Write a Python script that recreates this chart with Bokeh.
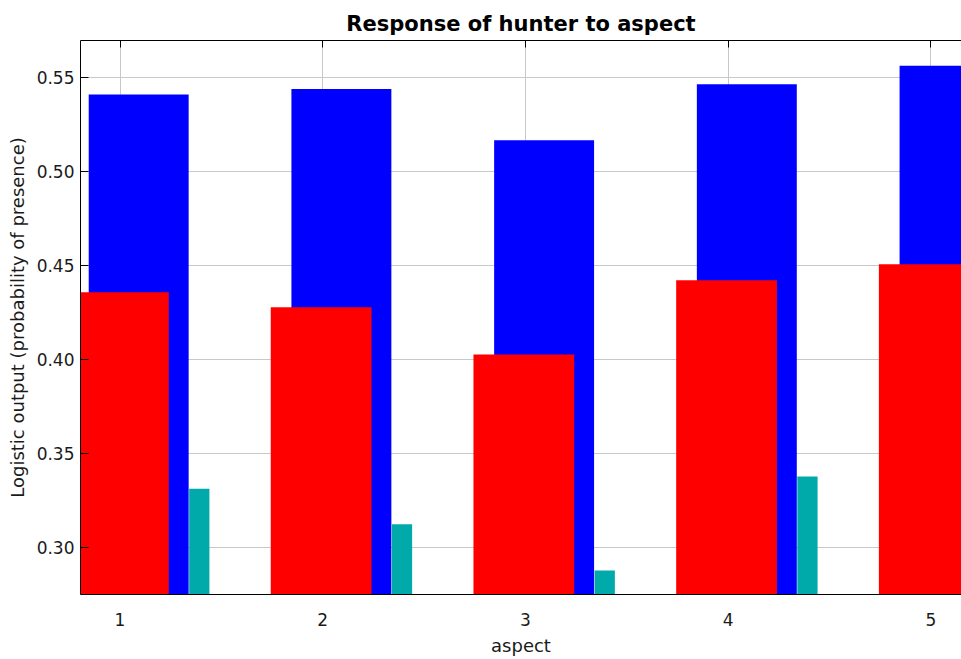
from bokeh.plotting import figure
from bokeh.models import (ColumnDataSource, Range1d, FixedTicker, LinearAxis,
                          PrintfTickFormatter)
from bokeh.transform import dodge
from bokeh.embed import file_html
from bokeh.resources import INLINE

# ---- data ----
aspect = [1, 2, 3, 4, 5]
tick_labels = ["1", "2", "3", "4", "5"]
blue_values = [0.5412, 0.5440, 0.5168, 0.5466, 0.5564]
red_values = [0.4358, 0.4278, 0.4027, 0.4422, 0.4507]
cyan_values = [0.3311, 0.3122, 0.2876, 0.3377, float("nan")]
y_ticks = [0.30, 0.35, 0.40, 0.45, 0.50, 0.55]

src = ColumnDataSource(dict(aspect=aspect, blue=blue_values, red=red_values,
                            cyan=cyan_values))

FONT = "DejaVu Sans"

p = figure(width=961, height=659, output_backend="svg", toolbar_location=None,
           x_range=Range1d(0.805, 5.151), y_range=Range1d(0.2748, 0.5699),
           x_axis_location="below", y_axis_location="left",
           min_border_left=80, min_border_right=0, min_border_top=40,
           min_border_bottom=65, background_fill_color="white",
           border_fill_color="white", outline_line_color=None)

p.title.text = "Response of hunter to aspect"
p.title.align = "center"
p.title.text_font = FONT
p.title.text_font_size = "21px"
p.title.text_font_style = "bold"
p.title.text_color = "black"
p.title.standoff = 10

# bars
p.vbar(x=dodge("aspect", 0.092, range=p.x_range), top="blue", bottom=0,
       width=0.493, source=src, fill_color="#0000ff", line_color=None)
p.vbar(x=dodge("aspect", -0.008, range=p.x_range), top="red", bottom=0,
       width=0.497, source=src, fill_color="#ff0000", line_color=None)
p.vbar(x=dodge("aspect", 0.391, range=p.x_range), top="cyan", bottom=0,
       width=0.1, source=src, fill_color="#00aaaa", line_color=None)

# grids
p.xgrid.ticker = FixedTicker(ticks=aspect)
p.ygrid.ticker = FixedTicker(ticks=y_ticks)
for g in (p.xgrid, p.ygrid):
    g.grid_line_color = "#c8c8c8"
    g.grid_line_width = 1

# x axis (bottom)
xa = p.xaxis[0]
xa.ticker = FixedTicker(ticks=aspect)
xa.major_label_overrides = {a: t for a, t in zip(aspect, tick_labels)}
xa.axis_label = "aspect"
xa.major_tick_in = 0
xa.major_tick_out = 0
xa.minor_tick_in = 0
xa.minor_tick_out = 0
xa.major_label_standoff = 18
xa.axis_label_standoff = 6

# y axis (left)
ya = p.yaxis[0]
ya.ticker = FixedTicker(ticks=y_ticks)
ya.formatter = PrintfTickFormatter(format="%.2f")
ya.axis_label = "Logistic output (probability of presence)"
ya.major_tick_in = 8
ya.major_tick_out = 0
ya.minor_tick_in = 0
ya.minor_tick_out = 0
ya.major_label_standoff = 6
ya.axis_label_standoff = 6

for ax in (xa, ya):
    ax.axis_line_color = "black"
    ax.axis_line_width = 1
    ax.major_tick_line_color = "black"
    ax.major_label_text_font = FONT
    ax.major_label_text_font_size = "17px"
    ax.major_label_text_color = "#1a1a1a"
    ax.axis_label_text_font = FONT
    ax.axis_label_text_font_size = "18px"
    ax.axis_label_text_font_style = "normal"
    ax.axis_label_text_color = "#1a1a1a"

# top axis: only a line with inward ticks, no labels
top = LinearAxis(ticker=FixedTicker(ticks=aspect), major_tick_in=7,
                 major_tick_out=0, minor_tick_in=0, minor_tick_out=0,
                 major_label_overrides={a: "" for a in aspect},
                 major_label_standoff=0,
                 axis_line_color="black", major_tick_line_color="black")
p.add_layout(top, "above")

open("out.html", "w").write(file_html(p, INLINE))
